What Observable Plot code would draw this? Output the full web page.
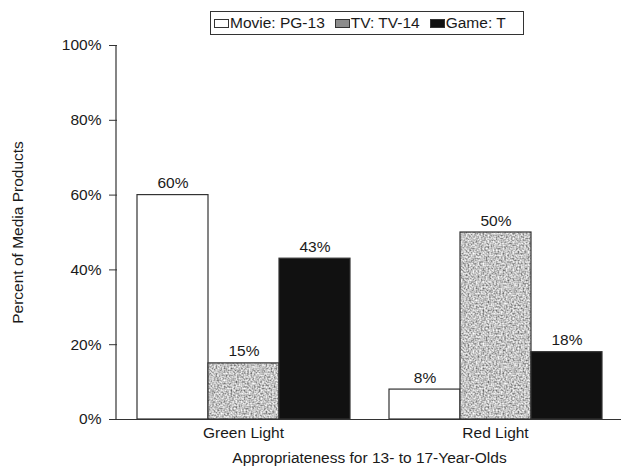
<!DOCTYPE html>
<html>
<head>
<meta charset="utf-8">
<script src="https://cdn.jsdelivr.net/npm/d3@7"></script>
<script src="https://cdn.jsdelivr.net/npm/@observablehq/plot@0.6"></script>
<style>
  body { margin: 0; background: white; }
  #wrap { position: relative; width: 621px; height: 472px; font-family: 'Liberation Sans', Arial, sans-serif; color: #1a1a1a; }
  #legend { position: absolute; left: 210px; top: 11px; width: 312px; height: 22px; border: 1.5px solid #333; display: flex; align-items: center; font-size: 15.5px; box-sizing: content-box; background: white; }
  .sw { display: inline-block; width: 15px; height: 9px; border: 1px solid #333; margin-left: 3px; margin-right: 1px; box-sizing: border-box; }
  .item { display: flex; align-items: center; margin-right: 7px; white-space: nowrap; }
</style>
</head>
<body>
<svg width="0" height="0" style="position:absolute">
  <defs>
    <filter id="noise" x="0" y="0" width="100%" height="100%">
      <feTurbulence type="fractalNoise" baseFrequency="0.6" numOctaves="1" seed="3" result="t"/>
      <feColorMatrix in="t" type="matrix" values="1.5 0 0 0 -0.2  1.5 0 0 0 -0.2  1.5 0 0 0 -0.2  0 0 0 0 1"/>
    </filter>
    <pattern id="speckle" width="80" height="80" patternUnits="userSpaceOnUse">
      <rect width="80" height="80" fill="#8c8c8c" filter="url(#noise)"/>
    </pattern>
  </defs>
</svg>
<div id="wrap">
  <div id="legend"></div>
</div>
<script>
const groups = ["Green Light", "Red Light"];
const seriesKeys = ["Movie: PG-13", "TV: TV-14", "Game: T"];
const movie = [60, 8];
const tv = [15, 50];
const game = [43, 18];
const yTicks = [0, 20, 40, 60, 80, 100];
const fills = ["white", "url(#speckle)", "#111"];

const valuesBySeries = [movie, tv, game];
const data = [];
groups.forEach((g, gi) => {
  seriesKeys.forEach((s, si) => {
    data.push({group: g, series: s, value: valuesBySeries[si][gi]});
  });
});

const FS = 15.5;
const TXT = "#1a1a1a";
const chart = Plot.plot({
  width: 621,
  height: 472,
  marginTop: 45,
  marginBottom: 53,
  marginLeft: 116,
  marginRight: 0,
  style: {fontFamily: "'Liberation Sans', Arial, sans-serif", fontSize: "15.5px", color: TXT, background: "white"},
  fx: {domain: groups, padding: 0, label: null},
  x: {domain: seriesKeys, paddingInner: 0, paddingOuter: 0.266, axis: null},
  y: {domain: [0, 100], axis: null},
  color: {domain: seriesKeys, range: fills},
  marks: [
    Plot.barY(data, {fx: "group", x: "series", y: "value", fill: "series", stroke: "#333", strokeWidth: 1.2}),
    Plot.text(data, {fx: "group", x: "series", y: "value", text: d => d.value + "%", dy: -7, lineAnchor: "bottom", fill: TXT, fontSize: FS}),
    Plot.ruleY([0], {stroke: "#333", strokeWidth: 1.2}),
    Plot.axisY({ticks: yTicks, tickFormat: d => d + "%", tickSize: 8, tickPadding: 8, stroke: "#333", fill: TXT, fontSize: FS,
      label: null}),
    Plot.text(["Percent of Media Products"], {frameAnchor: "left", dx: -99, rotate: -90, textAnchor: "middle", fill: TXT, fontSize: FS, facetAnchor: "left"}),
    Plot.axisFx({anchor: "bottom", tickSize: 0, tickPadding: 7, fill: TXT, fontSize: FS,
      label: null}),
    Plot.text(["Appropriateness for 13- to 17-Year-Olds"], {frameAnchor: "bottom", dy: 43, fill: TXT, fontSize: FS, facet: "super"})
  ]
});

// vertical y-axis line
const ys = chart.scale("y");
d3.select(chart).append("line")
  .attr("x1", 116).attr("x2", 116)
  .attr("y1", ys.apply(0)).attr("y2", ys.apply(100))
  .attr("stroke", "#333").attr("stroke-width", 1.2);

const wrap = document.getElementById("wrap");
wrap.insertBefore(chart, wrap.firstChild);
chart.style.position = "absolute";
chart.style.left = "0";
chart.style.top = "0";

const legend = document.getElementById("legend");
const swFill = ["white", "#8c8c8c", "#111"];
seriesKeys.forEach((s, i) => {
  const item = document.createElement("span");
  item.className = "item";
  const sw = document.createElement("span");
  sw.className = "sw";
  sw.style.background = swFill[i];
  item.appendChild(sw);
  item.appendChild(document.createTextNode(s));
  legend.appendChild(item);
});
</script>
</body>
</html>
